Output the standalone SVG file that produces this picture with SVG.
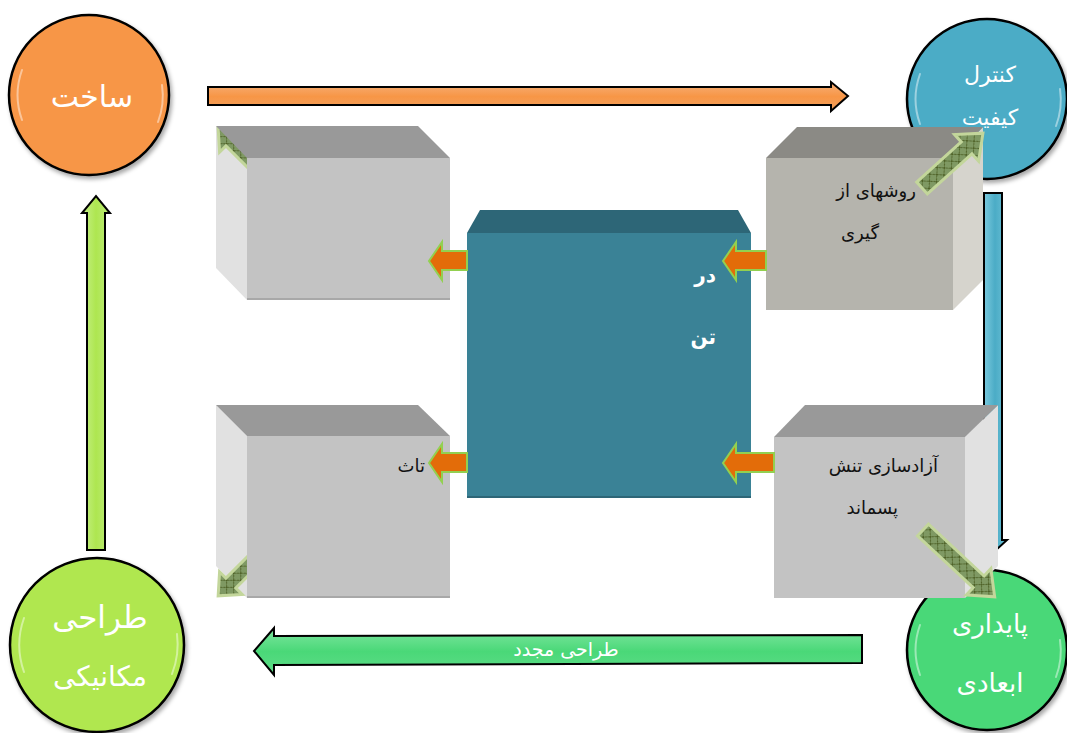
<svg xmlns="http://www.w3.org/2000/svg" width="1067" height="733" viewBox="0 0 1067 733">
<style>
.ct{font-family:"DejaVu Sans",sans-serif;fill:#ffffff;text-anchor:middle;}
.bt{font-family:"DejaVu Serif","DejaVu Sans",serif;fill:#111111;text-anchor:end;font-size:18px;}
.circ{stroke:#000;stroke-width:2.5;}
.hl{fill:none;stroke:#ffffff;stroke-width:2;stroke-opacity:0.45;stroke-linecap:round;}
.oa{fill:#e36c09;stroke:#92d050;stroke-width:2;}
.ga{fill:url(#hatch);stroke:#c3d69b;stroke-width:3;stroke-linejoin:miter;}
.bigarrow{stroke:#000;stroke-width:2;}
</style>
<defs>
<pattern id="hatch" patternUnits="userSpaceOnUse" width="10" height="10">
<rect width="10" height="10" fill="#7f9963"/>
<path d="M0,0 L10,10 M10,0 L0,10" stroke="#4f6228" stroke-width="1"/>
</pattern>
<linearGradient id="gOr" x1="0" y1="0" x2="0" y2="1">
<stop offset="0" stop-color="#f6b07a"/><stop offset="0.5" stop-color="#f79646"/><stop offset="1" stop-color="#f2a05e"/>
</linearGradient>
<linearGradient id="gBl" x1="0" y1="0" x2="1" y2="0">
<stop offset="0" stop-color="#7fcce0"/><stop offset="0.5" stop-color="#4bacc6"/><stop offset="1" stop-color="#6cc0d6"/>
</linearGradient>
<linearGradient id="gGl" x1="0" y1="0" x2="1" y2="0">
<stop offset="0" stop-color="#c6f08a"/><stop offset="0.5" stop-color="#aee650"/><stop offset="1" stop-color="#bdec78"/>
</linearGradient>
<linearGradient id="gGr" x1="0" y1="0" x2="0" y2="1">
<stop offset="0" stop-color="#7ee6a0"/><stop offset="0.5" stop-color="#4ad878"/><stop offset="1" stop-color="#5edc88"/>
</linearGradient>
<filter id="sh" x="-20%" y="-20%" width="140%" height="140%">
<feDropShadow dx="2" dy="3" stdDeviation="2" flood-color="#000" flood-opacity="0.35"/>
</filter>
</defs>

<g id="node-sakht">
<circle class="circ" cx="89" cy="95" r="80" fill="#f79646" filter="url(#sh)"/>
<path class="hl" d="M22,70 A74,74 0 0 0 22,120"/>
<path class="hl" d="M158,122 A74,74 0 0 0 162,85"/>
<text class="ct" x="92" y="107" font-size="30">ساخت</text>
</g>

<g id="node-control">
<circle class="circ" cx="987" cy="99" r="80" fill="#4bacc6" filter="url(#sh)"/>
<path class="hl" d="M920,74 A74,74 0 0 0 920,124"/>
<path class="hl" d="M1056,126 A74,74 0 0 0 1060,89"/>
<text class="ct" x="990" y="82" font-size="22">کنترل</text>
<text class="ct" x="990" y="125" font-size="22">کیفیت</text>
</g>

<g id="node-mech">
<circle class="circ" cx="97" cy="645" r="87" fill="#b0e74f" filter="url(#sh)"/>
<path class="hl" d="M24,618 A81,81 0 0 0 24,672"/>
<path class="hl" d="M172,674 A81,81 0 0 0 177,634"/>
<text class="ct" x="100" y="628" font-size="31">طراحی</text>
<text class="ct" x="100" y="686" font-size="28">مکانیکی</text>
</g>

<g id="node-stab">
<circle class="circ" cx="987" cy="650" r="80" fill="#4ad878" filter="url(#sh)"/>
<path class="hl" d="M920,625 A74,74 0 0 0 920,675"/>
<path class="hl" d="M1056,677 A74,74 0 0 0 1060,640"/>
<text class="ct" x="990" y="633" font-size="26">پایداری</text>
<text class="ct" x="990" y="692" font-size="26">ابعادی</text>
</g>

<g id="connectors">
<path class="bigarrow" fill="url(#gOr)" d="M208,87 L831,87 L831,82 L848,96 L831,111 L831,105 L208,105 Z"/>
<path class="bigarrow" fill="url(#gBl)" d="M984,193 L1002,193 L1002,540 L1007,540 L995,551 L983,540 L984,540 Z"/>
<path class="bigarrow" fill="url(#gGl)" d="M87,550 L87,213 L82,213 L96,196 L110,213 L105,213 L105,550 Z"/>
<path class="bigarrow" fill="url(#gGr)" d="M862,635 L274,636 L274,628 L254,651 L274,675 L274,665 L862,663 Z"/>
<text class="ct" x="566" y="656" font-size="19">طراحی مجدد</text>
</g>

<g id="box-tl">
<polygon points="216,126 247,158 247,300 216,268" fill="#e1e1e1"/>
<path class="ga" transform="translate(262,172) rotate(-135)" d="M0,-7 L44,-7 L44,-16 L62,0 L44,16 L44,7 L0,7 Z"/>
<polygon points="216,126 418,126 450,158 247,158" fill="#999999"/>
<rect x="247" y="158" width="203" height="142" fill="#c3c3c3"/>
<line x1="247" y1="299" x2="450" y2="299" stroke="#a8a8a8" stroke-width="2"/>
</g>

<g id="box-bl">
<polygon points="216,405 247,436 247,598 216,566" fill="#e1e1e1"/>
<path class="ga" transform="translate(262,552) rotate(135)" d="M0,-7 L44,-7 L44,-16 L62,0 L44,16 L44,7 L0,7 Z"/>
<polygon points="216,405 418,405 450,436 247,436" fill="#999999"/>
<rect x="247" y="436" width="203" height="162" fill="#c3c3c3"/>
<line x1="247" y1="597" x2="450" y2="597" stroke="#a8a8a8" stroke-width="2"/>
<text class="bt" x="425" y="472" font-size="17">تاث</text>
</g>

<g id="box-center">
<polygon points="467,233 480,210 738,210 751,233" fill="#2d6677"/>
<rect x="467" y="233" width="284" height="265" fill="#3a8296"/>
<line x1="467" y1="497" x2="751" y2="497" stroke="#2d6677" stroke-width="2"/>
<text x="716" y="282" font-family="DejaVu Sans,sans-serif" font-weight="bold" font-size="20" fill="#fff" text-anchor="end">در</text>
<text x="716" y="344" font-family="DejaVu Sans,sans-serif" font-weight="bold" font-size="20" fill="#fff" text-anchor="end">تن</text>
</g>

<g id="box-tr">
<polygon points="953,158 983,127 983,280 953,310" fill="#d6d4cd"/>
<polygon points="766,158 797,127 983,127 953,158" fill="#8b8a85"/>
<rect x="766" y="158" width="187" height="152" fill="#b5b4ad"/>
<text class="bt" x="916" y="197">روشهای از</text>
<text class="bt" x="879" y="239">گیری</text>
</g>

<g id="box-br">
<polygon points="965,437 998,405 998,566 965,598" fill="#e1e1e1"/>
<polygon points="774,437 805,405 998,405 965,437" fill="#999999"/>
<rect x="774" y="437" width="191" height="161" fill="#c3c3c3"/>
<text class="bt" x="938" y="472">آزادسازی تنش</text>
<text class="bt" x="898" y="514">پسماند</text>
</g>

<g id="connectors-inner">
<path class="oa" d="M467,251 L442,251 L442,242 L429,261 L442,280 L442,270 L467,270 Z"/>
<path class="oa" d="M766,251 L736,251 L736,242 L723,261 L736,280 L736,270 L766,270 Z"/>
<path class="oa" d="M467,453 L442,453 L442,444 L429,463 L442,482 L442,472 L467,472 Z"/>
<path class="oa" d="M774,453 L736,453 L736,444 L723,463 L736,482 L736,472 L774,472 Z"/>
<path class="ga" transform="translate(922,188) rotate(-42)" d="M0,-8 L60,-8 L60,-18 L82,0 L60,18 L60,8 L0,8 Z"/>
<path class="ga" transform="translate(923,530) rotate(43)" d="M0,-8 L76,-8 L76,-18 L98,0 L76,18 L76,8 L0,8 Z"/>
</g>
</svg>
